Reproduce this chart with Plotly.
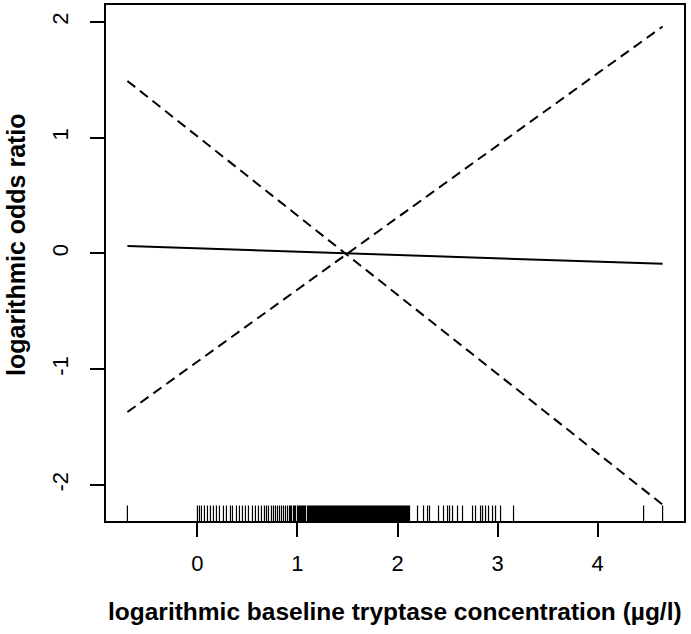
import plotly.graph_objects as go

# Line endpoints (x range of data) and fitted values
x_ends = [-0.70, 4.65]
estimate = [0.065, -0.09]
upper_ci = [-1.37, 1.96]
lower_ci = [1.49, -2.17]

# Rug of observed log baseline tryptase values
rug_x = [-0.70, 0.00, 0.02, 0.04, 0.07, 0.10, 0.13, 0.16, 0.19, 0.22, 0.26, 0.29,
         0.33, 0.35, 0.39, 0.42, 0.45, 0.48, 0.51, 0.55, 0.58, 0.61, 0.64, 0.67,
         0.69, 0.71, 0.74, 0.76, 0.78, 0.80, 0.82, 0.84, 0.86, 0.88, 0.90, 0.92,
         0.94, 0.96, 0.98, 1.00, 1.02, 1.04, 1.06, 1.08, 1.10, 1.12, 1.14, 1.16,
         1.18, 1.20, 1.22, 1.24, 1.26, 1.28, 1.30, 1.32, 1.34, 1.36, 1.38, 1.40,
         1.42, 1.44, 1.46, 1.48, 1.50, 1.52, 1.54, 1.56, 1.58, 1.60, 1.62, 1.64,
         1.66, 1.68, 1.70, 1.72, 1.74, 1.76, 1.78, 1.80, 1.82, 1.84, 1.86, 1.88,
         1.90, 1.92, 1.94, 1.96, 1.98, 2.00, 2.02, 2.04, 2.06, 2.08, 2.10, 2.12,
         0.93, 0.97, 1.01, 1.03, 1.05, 1.07, 1.11, 1.13, 1.15, 1.17, 1.19, 1.21,
         1.23, 1.25, 1.27, 1.29, 1.31, 1.33, 1.35, 1.37, 1.39, 1.41, 1.43, 1.45,
         1.47, 1.49, 1.51, 1.53, 1.55, 1.57, 1.59, 1.61, 1.63, 1.65, 1.67, 1.69,
         1.71, 1.73, 1.75, 1.77, 1.79, 1.81, 1.83, 1.85, 1.87, 1.89, 1.91, 1.93,
         1.95, 1.97, 1.99, 2.01, 2.03, 2.05, 2.07, 2.09, 2.11,
         2.20, 2.26, 2.30, 2.32, 2.41, 2.46, 2.50, 2.52, 2.55, 2.60, 2.65, 2.75,
         2.78, 2.83, 2.85, 2.88, 2.91, 2.95, 2.98, 3.03, 3.16, 4.46, 4.65]

x_ticks = [0, 1, 2, 3, 4]
y_ticks = [-2, -1, 0, 1, 2]
y_tick_labels = ["-2", "-1", "0", "1", "2"]

x_range = [-0.914, 4.864]
y_range = [-2.311, 2.146]

FONT = "Liberation Sans, Arial, Helvetica, sans-serif"

fig = go.Figure()

fig.add_trace(go.Scatter(x=x_ends, y=estimate, mode="lines",
                         line=dict(color="black", width=2), showlegend=False))
fig.add_trace(go.Scatter(x=x_ends, y=upper_ci, mode="lines",
                         line=dict(color="black", width=2, dash="10px,6px"), showlegend=False))
fig.add_trace(go.Scatter(x=x_ends, y=lower_ci, mode="lines",
                         line=dict(color="black", width=2, dash="10px,6px"), showlegend=False))

# rug ticks
tick_h = 0.03 * (y_range[1] - y_range[0])
rx, ry = [], []
for v in rug_x:
    rx += [v, v, None]
    ry += [y_range[0], y_range[0] + tick_h, None]
fig.add_trace(go.Scatter(x=rx, y=ry, mode="lines",
                         line=dict(color="black", width=1.2), showlegend=False,
                         hoverinfo="skip"))

axis_common = dict(
    showgrid=False, zeroline=False, showline=True, mirror=True,
    linecolor="black", linewidth=2, ticks="outside", ticklen=14,
    tickwidth=1.5, tickcolor="black", automargin=False,
    tickfont=dict(family=FONT, size=22, color="black"),
)

fig.update_xaxes(range=x_range, tickvals=x_ticks, ticklabelstandoff=8, **axis_common)
fig.update_yaxes(range=y_range, tickvals=y_ticks, ticktext=y_tick_labels, tickangle=-90,
                 ticklabelstandoff=13, **axis_common)

fig.update_layout(
    width=691, height=634,
    margin=dict(l=106, r=7, t=5, b=113),
    plot_bgcolor="white", paper_bgcolor="white",
    font=dict(family=FONT, color="black"),
    annotations=[
        dict(text="<b>logarithmic baseline tryptase concentration (µg/l)</b>",
             xref="paper", yref="paper", x=0.5, y=-0.176,
             xanchor="center", yanchor="middle", showarrow=False,
             font=dict(family=FONT, size=24.5, color="black")),
        dict(text="<b>logarithmic odds ratio</b>",
             xref="paper", yref="paper", x=-0.1557, y=0.535,
             xanchor="center", yanchor="middle", textangle=-90, showarrow=False,
             font=dict(family=FONT, size=25, color="black")),
    ],
)

fig.write_html("out.html", config={"displayModeBar": False},
               post_script="document.body.style.margin='0';document.body.style.overflow='hidden';")
